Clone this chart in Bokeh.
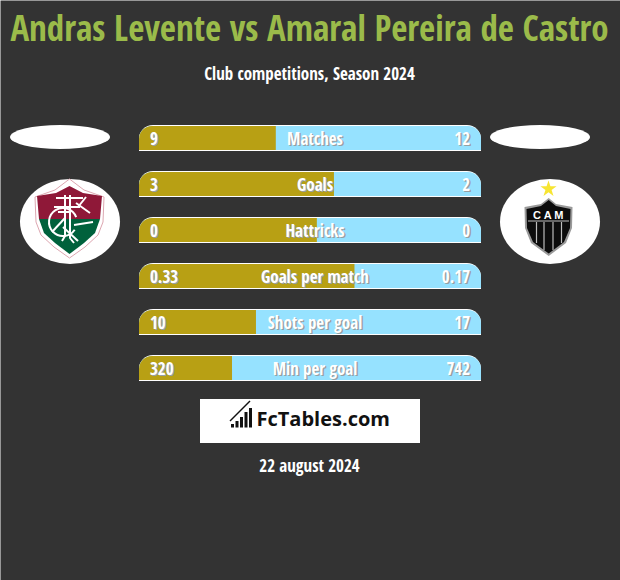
from bokeh.core.properties import value
from bokeh.embed import file_html
from bokeh.models import ColumnDataSource, Range1d
from bokeh.plotting import figure
from bokeh.resources import INLINE

TITLE = "Andras Levente vs Amaral Pereira de Castro"
SUBTITLE = "Club competitions, Season 2024"
DATE = "22 august 2024"
LOGO_TEXT = "FcTables.com"
categories = ["Matches", "Goals", "Hattricks", "Goals per match", "Shots per goal", "Min per goal"]
left_labels = ["9", "3", "0", "0.33", "10", "320"]
right_labels = ["12", "2", "0", "0.17", "17", "742"]
left_share = [40.0, 57.0, 52.0, 63.0, 34.2, 27.2]
rows = [0, 1, 2, 3, 4, 5]

BG = "#333333"
GOLD = "#b8a014"
SKY = "#96e2ff"
GREEN = "#9bbb4a"
FONT = value("Open Sans Condensed")

W, H = 620, 580
SHIFT = 0.5
p = figure(width=W, height=H, output_backend="svg", toolbar_location=None,
           x_range=Range1d(SHIFT, W + SHIFT), y_range=Range1d(H + SHIFT, SHIFT),
           min_border=0, outline_line_color=None, background_fill_color=BG,
           border_fill_color=BG)
p.axis.visible = False
p.grid.visible = False

TRACK_X0, TRACK_X1 = 139, 481
unit = (TRACK_X1 - TRACK_X0) / 100
p.extra_x_ranges["share"] = Range1d((SHIFT - TRACK_X0) / unit, (W + SHIFT - TRACK_X0) / unit)
ROW0, ROW_STEP = 138, 46
p.extra_y_ranges["row"] = Range1d((H + SHIFT - ROW0) / ROW_STEP, (SHIFT - ROW0) / ROW_STEP)

src = ColumnDataSource(dict(row=rows, cat=categories, l=left_labels, r=right_labels,
                            share=left_share, zero=[0] * 6, full=[100] * 6, mid=[50] * 6))
bar = dict(source=src, y="row", x_range_name="share", y_range_name="row", line_color=None)
p.hbar(left="zero", right="full", height=26 / ROW_STEP, fill_color="white",
       border_radius=(14, 14, 0, 0), **bar)
p.hbar(left="zero", right="full", height=24 / ROW_STEP, fill_color=SKY,
       border_radius=(13, 13, 0, 0), **bar)
p.hbar(left="zero", right="share", height=24 / ROW_STEP, fill_color=GOLD,
       border_radius=(13, 0, 0, 0), **bar)

txt = dict(source=src, y="row", x_range_name="share", y_range_name="row",
           text_font=FONT, text_font_style="bold", text_font_size="17px",
           text_baseline="middle")
for colr, dx, dy in (("#97a0a4", 1.5, 1.5), ("white", 0, 0)):
    p.text(x="zero", text="l", text_color=colr, text_align="left", x_offset=11 + dx, y_offset=dy, **txt)
    p.text(x="mid", text="cat", text_color=colr, text_align="center", x_offset=5 + dx, y_offset=dy, **txt)
    p.text(x="full", text="r", text_color=colr, text_align="right", x_offset=-11 + dx, y_offset=dy, **txt)

head = dict(text_font=FONT, text_font_style="bold", text_align="center", text_baseline="middle")
p.text(x=[309.5], y=[27], text=[TITLE], text_color=GREEN, text_font_size="35px", **head)
p.text(x=[309.5], y=[73], text=[SUBTITLE], text_color="white", text_font_size="17px", **head)
p.text(x=[309.5], y=[465], text=[DATE], text_color="white", text_font_size="17px", **head)

# top pills and crest discs
p.ellipse(x=[60, 540], y=[137, 137], width=100, height=24, fill_color="white", line_color=None)
p.ellipse(x=[70, 550], y=[221.5, 221.5], width=100, height=85, fill_color="white", line_color=None)

# left crest
p.patch([69.5, 84, 104, 103, 98, 85, 69.5, 54, 41, 36, 35, 55],
        [179, 190, 197, 222, 235, 247, 258, 247, 235, 222, 197, 190],
        fill_color="white", line_color="#dca6b0", line_width=1)
p.patch([69.5, 83, 102, 100, 39, 37, 56], [186, 193, 196, 219, 219, 196, 193],
        fill_color="#8f1838", line_color=None)
p.patch([39, 100, 95, 84, 69.5, 55, 44], [219, 219, 233, 243, 254, 243, 233],
        fill_color="#00613c", line_color=None)
p.multi_line([[65, 65, 62], [70, 70, 74], [56, 83], [54, 80], [76, 90], [78, 86], [65, 52], [63, 78], [58, 70]],
             [[195, 236, 241], [195, 238, 243], [198, 198], [207, 207], [203, 213], [207, 197],
              [218, 232], [227, 241], [212, 212]],
             line_color="white", line_width=2)
p.arc(x=[63], y=[222], radius=14, start_angle=0.35, end_angle=5.7, line_color="white", line_width=2)
p.line([74, 93], [225, 222], line_color="white", line_width=2)

# right crest
p.scatter(x=[548.5], y=[189], marker="star", size=17, fill_color="#f7e532", line_color=None)
p.patch([548.7, 556, 572.5, 572, 566, 548.7, 531, 525, 524.5, 541],
        [198, 204, 207, 228, 243, 256, 243, 228, 207, 204],
        fill_color="#9a9a9a", line_color=None)
p.patch([548.7, 556, 570.5, 570, 564, 548.7, 533, 527, 526.5, 541],
        [200, 206, 209, 228, 242, 253.5, 242, 228, 209, 206],
        fill_color="#0c0c0c", line_color=None)
p.multi_line([[528, 569], [536.5, 536.5], [544, 544], [553, 553], [561.5, 561.5]],
             [[221, 221], [222, 243], [222, 250], [222, 250], [222, 243]],
             line_color="#bdbdbd", line_width=1.2)
p.text(x=[548.7], y=[215], text=["C A M"], text_color="white", text_font_size="11px",
       text_font=value("Liberation Sans"), text_font_style="bold",
       text_align="center", text_baseline="middle")

# logo plate
p.quad(left=[200], right=[420], top=[399], bottom=[443], fill_color="white", line_color=None)
p.quad(left=[231, 235.5, 240, 244.5, 249], right=[234, 238.5, 243, 247.5, 252],
       top=[424, 421, 417, 412, 408], bottom=[427.5] * 5, fill_color="#111111", line_color=None)
p.line([230, 250], [421, 401], line_color="#111111", line_width=1.5)
p.text(x=[256.5], y=[418], text=[LOGO_TEXT], text_color="#111111", text_font_size="20px",
       text_font=value("Open Sans"), text_font_style="bold", text_align="left", text_baseline="middle")

open("out.html", "w").write(file_html(p, INLINE))
